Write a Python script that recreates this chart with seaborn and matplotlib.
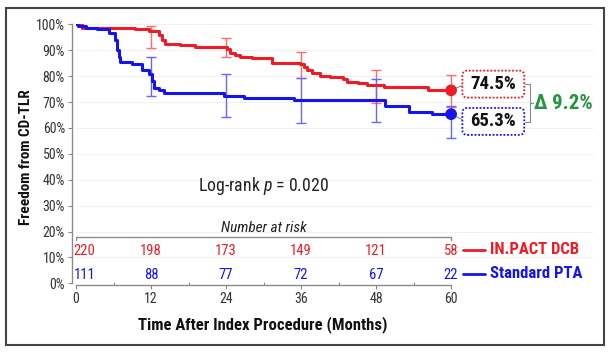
import matplotlib
matplotlib.use("Agg")
import matplotlib.pyplot as plt
import numpy as np
import pandas as pd
import seaborn as sns
from matplotlib.patches import FancyBboxPatch, Rectangle

# Kaplan-Meier steps (months, % free from CD-TLR)
dcb_months = [0, 1.0, 9.4, 11.6, 13.2, 13.7, 14.2, 16.6, 19.0, 24.1, 24.6, 25.4, 26.2, 28.1,
              31.3, 35.9, 36.4, 36.9, 37.7, 39.0, 40.6, 42.7, 43.3, 45.1, 46.5, 49.2, 56.3, 60]
dcb_surv = [100, 98.7, 98.1, 97.4, 96.0, 94.0, 92.5, 92.0, 91.1, 90.3, 89.0, 88.1, 87.4, 86.9,
            85.2, 84.6, 83.6, 82.4, 81.3, 80.0, 79.5, 78.8, 77.8, 77.2, 76.6, 75.7, 74.5, 74.5]
pta_months = [0, 0.3, 1.6, 3.3, 5.2, 6.2, 6.6, 6.8, 7.0, 8.9, 10.5, 11.6, 12.1, 12.5, 13.2,
              14.0, 23.6, 26.8, 34.8, 49.4, 53.3, 56.9, 60]
pta_surv = [100, 99.2, 98.7, 98.1, 96.5, 93.9, 90.1, 87.5, 85.6, 84.5, 82.2, 80.8, 78.0, 75.5,
            74.5, 73.5, 72.5, 71.5, 70.6, 68.5, 66.3, 65.3, 65.3]

ci_months = [12, 24, 36, 48, 60]
dcb_ci_lo = [91.0, 87.3, 79.4, 69.8, 68.0]
dcb_ci_hi = [99.3, 94.8, 89.4, 82.3, 80.6]
pta_ci_lo = [72.4, 64.3, 62.0, 62.2, 56.0]
pta_ci_hi = [87.3, 80.8, 79.4, 78.9, 68.5]

risk_months = [0, 12, 24, 36, 48, 60]
dcb_at_risk = [220, 198, 173, 149, 121, 58]
pta_at_risk = [111, 88, 77, 72, 67, 22]

dcb_final = 74.5
pta_final = 65.3
arms = ["IN.PACT DCB", "Standard PTA"]

RED = "#ee1c25"
BLUE = "#1414ee"
RED_LIGHT = "#ff6b6b"
BLUE_LIGHT = "#6666ff"
GREEN = "#23963f"
GRAY = "#8a8a8a"

sns.set_theme(style="white")
plt.rcParams["font.family"] = ["Roboto Condensed", "DejaVu Sans"]
plt.rcParams["mathtext.fontset"] = "custom"
plt.rcParams["mathtext.it"] = "Roboto Condensed:italic"
plt.rcParams["mathtext.rm"] = "Roboto Condensed"

fig = plt.figure(figsize=(6.12, 3.53), dpi=100)
ax = fig.add_axes([76 / 612, (353 - 283.3) / 353, (593 - 76) / 612, 259 / 353])

curves = pd.concat(
    [
        pd.DataFrame({"month": dcb_months, "survival": dcb_surv, "arm": arms[0]}),
        pd.DataFrame({"month": pta_months, "survival": pta_surv, "arm": arms[1]}),
    ],
    ignore_index=True,
)
sns.lineplot(data=curves, x="month", y="survival", hue="arm", palette=[RED, BLUE],
             drawstyle="steps-post", estimator=None, sort=False, linewidth=2.2,
             legend=False, ax=ax, zorder=4)

for lo, hi, color in [(dcb_ci_lo, dcb_ci_hi, RED_LIGHT), (pta_ci_lo, pta_ci_hi, BLUE_LIGHT)]:
    lo, hi = np.array(lo), np.array(hi)
    mid = (lo + hi) / 2
    ax.errorbar(ci_months, mid, yerr=(hi - lo) / 2, fmt="none", ecolor=color,
                elinewidth=1.0, capsize=3.5, capthick=1.0, zorder=3)

ax.scatter([60, 60], [dcb_final, pta_final], s=55, color=[RED, BLUE], zorder=6)

# final value boxes with connectors
ax.plot([60, 61.9], [dcb_final, 76.5], color=GRAY, lw=0.8, zorder=2)
ax.plot([60, 62.0], [pta_final, 63.0], color=GRAY, lw=0.8, zorder=2)
for y, val, color in [(76.9, dcb_final, RED), (62.5, pta_final, BLUE)]:
    box = FancyBboxPatch((61.8, y - 5.2), 9.9, 10.4, boxstyle="round,pad=0,rounding_size=0.8",
                         mutation_aspect=2.4, fc="white", ec=color, ls=(0, (1, 1)), lw=1.3,
                         clip_on=False, zorder=5)
    ax.add_patch(box)
    ax.text(66.75, y, f"{val}%", ha="center", va="center", fontsize=13.5, fontweight="bold",
            color="#111111", zorder=6)

# bracket and difference
ax.plot([71.8, 72.6, 72.6, 71.8], [76.9, 76.9, 62.4, 62.4], color=GRAY, lw=0.8)
ax.plot([72.6, 73.1], [69.5, 69.5], color=GRAY, lw=0.8)
ax.text(73.2, 69.6, f"\u2206 {dcb_final - pta_final:.1f}%", ha="left", va="center",
        fontsize=15, fontweight="bold", color=GREEN)

ax.text(30, 37.5, "Log-rank $p$ = 0.020", ha="center", va="center", fontsize=12.8, color="#222222")

# number at risk table
ax.text(30, 21.2, "Number at risk", ha="center", va="center", fontsize=11,
        style="italic", color="#222222")
ax.plot([0, 0, 60, 60], [16.8, 18, 18, 16.8], color=GRAY, lw=1.0)
for i, m in enumerate(risk_months):
    ha = "left" if m == 0 else "center"
    x = -0.4 if m == 0 else m
    ax.text(x, 12.5, str(dcb_at_risk[i]), ha=ha, va="center", fontsize=10.5, color=RED)
    ax.text(x, 3.2, str(pta_at_risk[i]), ha=ha, va="center", fontsize=10.5, color=BLUE)

for y, label, color in [(12.9, arms[0], RED), (3.6, arms[1], BLUE)]:
    ax.plot([61.9, 65.4], [y, y], color=color, lw=2.0, clip_on=False)
    ax.text(66.3, y, label, ha="left", va="center", fontsize=12, fontweight="bold", color=color)

ax.set_xlim(0, 82.7)
ax.set_ylim(0, 100)
ax.set_yticks(np.arange(0, 101, 10))
ax.set_yticklabels([f"{v}%" for v in range(0, 101, 10)])
ax.set_xticks(risk_months)
ax.set_xticks([6, 18, 30, 42, 54], minor=True)
ax.yaxis.grid(True, color="#f0f0f0", lw=0.8)
ax.xaxis.grid(False)
ax.set_xlabel("")
ax.set_ylabel("")

for side in ["top", "right"]:
    ax.spines[side].set_visible(False)
ax.spines["left"].set_position(("outward", 3))
ax.spines["bottom"].set_position(("outward", 1.2))
ax.spines["bottom"].set_bounds(0, 60)
for side in ["left", "bottom"]:
    ax.spines[side].set_color(GRAY)
    ax.spines[side].set_linewidth(1.0)
ax.tick_params(axis="both", which="major", length=3, width=0.8, color=GRAY,
               labelsize=10, labelcolor="#333333", pad=2, left=True, bottom=True)
ax.tick_params(axis="x", which="minor", length=2, width=0.8, color=GRAY, bottom=True,
               direction="in")

fig.text(26 / 612, (353 - 157) / 353, "Freedom from CD-TLR", rotation=90, ha="center",
         va="center", fontsize=11, fontweight="bold", color="#111111")
fig.text(263 / 612, (353 - 325) / 353, "Time After Index Procedure (Months)", ha="center",
         va="center", fontsize=12, fontweight="bold", color="#111111")

fig.patches.append(Rectangle((6 / 612, 8 / 353), 598 / 612, 337 / 353, transform=fig.transFigure,
                             fill=False, ec="#444444", lw=1.5))

fig.savefig("out.png", dpi=100)
